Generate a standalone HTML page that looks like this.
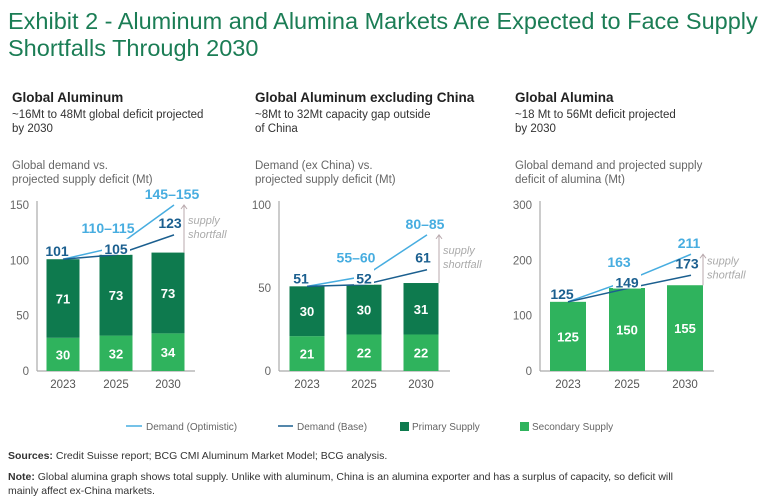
<!DOCTYPE html>
<html><head><meta charset="utf-8">
<style>
body{margin:0;width:768px;height:504px;background:#fff;font-family:"Liberation Sans",sans-serif;overflow:hidden}
svg{position:absolute;left:0;top:0}
</style></head>
<body>
<svg id="chart" width="768" height="504" viewBox="0 0 768 504">
<g fill="#1b7d55" font-size="23.5">
<text x="8" y="29">Exhibit 2 - Aluminum and Alumina Markets Are Expected to Face Supply</text>
<text x="8" y="56">Shortfalls Through 2030</text>
</g>
</svg>
<script>
const years=["2023","2025","2030"];
const p1Primary=[71,73,73], p1Secondary=[30,32,34], p1Base=[101,105,123], p1Opt=[101,112,150];
const p1BaseLbl=["101","105","123"], p1OptLbl=["","110–115","145–155"];
const p1Ticks=[0,50,100,150];
const p2Primary=[30,30,31], p2Secondary=[21,22,22], p2Base=[51,52,61], p2Opt=[51,57,82];
const p2BaseLbl=["51","52","61"], p2OptLbl=["","55–60","80–85"];
const p2Ticks=[0,50,100];
const p3Primary=[125,150,155], p3Secondary=[0,0,0], p3Base=[125,149,173], p3Opt=[125,163,211];
const p3BaseLbl=["125","149","173"], p3OptLbl=["","163","211"];
const p3Ticks=[0,100,200,300];

const svg=document.getElementById('chart');
const NS="http://www.w3.org/2000/svg";
function mk(tag,attrs,parent){const e=document.createElementNS(NS,tag);for(const k in attrs)e.setAttribute(k,attrs[k]);(parent||svg).appendChild(e);return e;}
function txt(s,attrs,parent){const e=mk('text',attrs,parent);e.textContent=s;return e;}

const DARK="#0e7a4e", LIGHT="#2fb35d", OPT="#47ade0", BASE="#1b5f8f";

const panels=[
 {x0:12,title:"Global Aluminum",sub:["~16Mt to 48Mt global deficit projected","by 2030"],ax:["Global demand vs.","projected supply deficit (Mt)"],
  axisX:37,max:150,ticks:p1Ticks,centers:[63,116,168],bw:33,pri:p1Primary,sec:p1Secondary,base:p1Base,opt:p1Opt,bl:p1BaseLbl,ol:p1OptLbl,arrowX:184,oneColor:false},
 {x0:255,title:"Global Aluminum excluding China",sub:["~8Mt to 32Mt capacity gap outside","of China"],ax:["Demand (ex China) vs.","projected supply deficit (Mt)"],
  axisX:279,max:100,ticks:p2Ticks,centers:[307,364,421],bw:35,pri:p2Primary,sec:p2Secondary,base:p2Base,opt:p2Opt,bl:p2BaseLbl,ol:p2OptLbl,arrowX:439,oneColor:false},
 {x0:515,title:"Global Alumina",sub:["~18 Mt to 56Mt deficit projected","by 2030"],ax:["Global demand and projected supply","deficit of alumina (Mt)"],
  axisX:540,max:300,ticks:p3Ticks,centers:[568,627,685],bw:36,pri:p3Primary,sec:p3Secondary,base:p3Base,opt:p3Opt,bl:p3BaseLbl,ol:p3OptLbl,arrowX:703,oneColor:true}
];
const Y0=371, YT=205;

panels.forEach((p,pi)=>{
 const g=mk('g',{});
 
 
 const y=v=>Y0-(v/p.max)*(Y0-YT);
 const t=txt(p.title,{x:p.x0,y:102,'font-size':13.5,'font-weight':'bold',fill:'#222'},g);
 
 
 p.sub.forEach((s,i)=>{const e=txt(s,{x:p.x0,y:118+i*14,'font-size':11.5,fill:'#333'},g);
  
  });
 p.ax.forEach((s,i)=>{const e=txt(s,{x:p.x0,y:169+i*14,'font-size':11.5,fill:'#666'},g);
  
  });
 p.ticks.forEach(v=>{const e=txt(String(v),{x:p.axisX-8,y:y(v)+4,'font-size':11.5,fill:'#666','text-anchor':'end'},g);
  
  });
 const ya=mk('line',{x1:p.axisX,y1:YT-4,x2:p.axisX,y2:Y0,stroke:'#aaa','stroke-width':1.2},g);
 
 
 const xa=mk('line',{x1:p.axisX,y1:Y0,x2:p.arrowX+11,y2:Y0,stroke:'#aaa','stroke-width':1.2},g);
 
 
 years.forEach((yr,i)=>{
  const cx=p.centers[i], bx=cx-p.bw/2;
  const tot=p.pri[i]+p.sec[i];
  const sec=mk('rect',{x:bx,y:y(p.sec[i]),width:p.bw,height:Y0-y(p.sec[i]),fill:LIGHT},g);
  
  
  const pri=mk('rect',{x:bx,y:y(tot),width:p.bw,height:y(p.sec[i])-y(tot),fill:p.oneColor?LIGHT:DARK},g);
  
  
  const pl=txt(String(p.pri[i]),{x:cx,y:(y(tot)+y(p.sec[i]))/2+5,'font-size':13,'font-weight':'bold',fill:'#fff','text-anchor':'middle'},g);
  
  
  if(p.sec[i]>0){const sl=txt(String(p.sec[i]),{x:cx,y:(Y0+y(p.sec[i]))/2+5,'font-size':13,'font-weight':'bold',fill:'#fff','text-anchor':'middle'},g);
   
   }
  const xl=txt(yr,{x:cx,y:388,'font-size':11.5,fill:'#555','text-anchor':'middle'},g);
  
  
 });
 const lx=i=>i==2?p.centers[2]+6:p.centers[i];
 const optPts=p.opt.map((v,i)=>lx(i)+','+y(v)).join(' ');
 const basePts=p.base.map((v,i)=>lx(i)+','+y(v)).join(' ');
 const lo=mk('polyline',{points:optPts,fill:'none',stroke:OPT,'stroke-width':1.5},g);
 
 
 const lb=mk('polyline',{points:basePts,fill:'none',stroke:BASE,'stroke-width':1.5},g);
 
 
 p.bl.forEach((s,i)=>{
  let yy=i==2?y(p.base[i])-7:y(p.base[i])-3;
  let xx=i==2?p.centers[i]+2:p.centers[i]-(i==0?6:0);
  if(i==1){const w=s.length*8+4;const bg=mk('rect',{x:xx-w/2,y:yy-13,width:w,height:16,fill:'#fff'},g);
   
   yy+=2;}
  const e=txt(s,{x:xx,y:yy,'font-size':14,'font-weight':'bold',fill:BASE,'text-anchor':'middle'},g);
  
  
 });
 p.ol.forEach((s,i)=>{ if(!s)return;
  const yy=i==2?y(p.opt[i])-6:y(p.opt[i])-14;
  const xx=i==2?p.centers[i]+4:p.centers[i]-8;
  const e=txt(s,{x:xx,y:yy,'font-size':14,'font-weight':'bold',fill:OPT,'text-anchor':'middle'},g);
  
  
 });
 const top=y(p.opt[2]), bot=y(p.pri[2]+p.sec[2]);
 const ar=mk('path',{d:`M${p.arrowX},${bot} V${top} M${p.arrowX-3},${top+4} L${p.arrowX},${top} L${p.arrowX+3},${top+4}`,fill:'none',stroke:'#b9a9ad','stroke-width':1},g);
 
 
 const my=(top+bot)/2;
 ['supply','shortfall'].forEach((s,i)=>{const e=txt(s,{x:p.arrowX+4,y:my-5+i*14,'font-size':11,'font-style':'italic',fill:'#aaa'},g);
  
  });
});

// legend
const lg=mk('g',{});


const l1=mk('line',{x1:126,y1:426,x2:142,y2:426,stroke:OPT,'stroke-width':1.5},lg);


const t1=txt('Demand (Optimistic)',{x:146,y:430,'font-size':10,fill:'#666'},lg);


const l2=mk('line',{x1:278,y1:426,x2:293,y2:426,stroke:BASE,'stroke-width':1.5},lg);


const t2=txt('Demand (Base)',{x:297,y:430,'font-size':10,fill:'#666'},lg);


const s3=mk('rect',{x:400,y:422,width:9,height:9,fill:DARK},lg);


const t3=txt('Primary Supply',{x:412,y:430,'font-size':10,fill:'#666'},lg);


const s4=mk('rect',{x:520,y:422,width:9,height:9,fill:LIGHT},lg);


const t4=txt('Secondary Supply',{x:532,y:430,'font-size':10,fill:'#666'},lg);



// footnotes
const fn=mk('g',{'font-size':10.5,fill:'#333'});


const f1=mk('text',{x:8,y:459},fn);
f1.innerHTML='<tspan font-weight="bold">Sources:</tspan> Credit Suisse report; BCG CMI Aluminum Market Model; BCG analysis.';


const f2=mk('text',{x:8,y:480},fn);
f2.innerHTML='<tspan font-weight="bold">Note:</tspan> Global alumina graph shows total supply. Unlike with aluminum, China is an alumina exporter and has a surplus of capacity, so deficit will';


const f3=txt('mainly affect ex-China markets.',{x:8,y:494},fn);


</script>
</body></html>
